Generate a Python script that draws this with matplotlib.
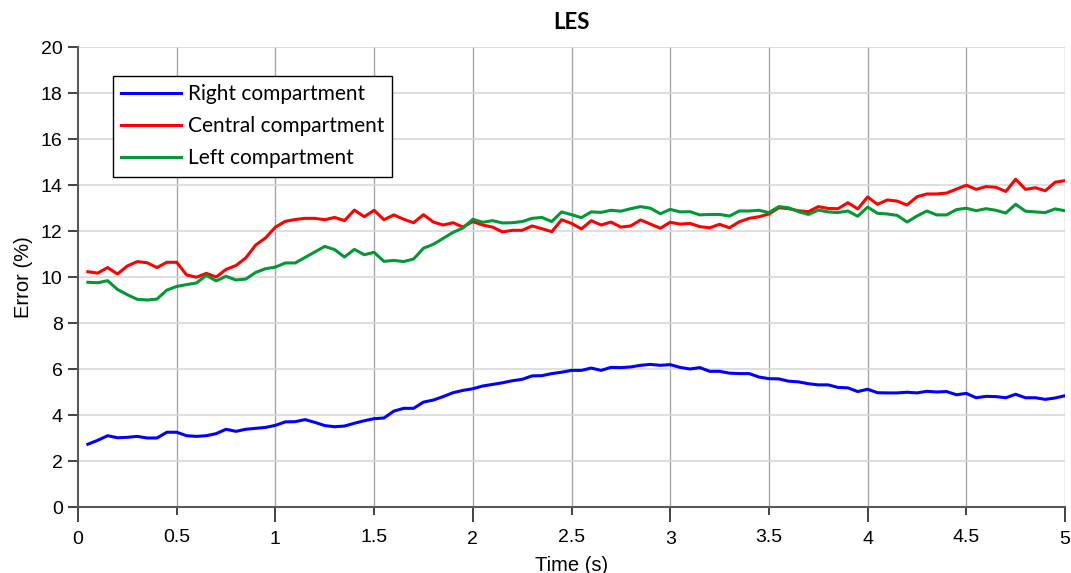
import numpy as np
import matplotlib
matplotlib.use("Agg")
import matplotlib.pyplot as plt

time_s = [round(0.05 * (i + 1), 2) for i in range(100)]

right_comp = [2.73, 2.90, 3.10, 3.01, 3.03, 3.07, 3.00, 3.00, 3.25, 3.25,
              3.10, 3.07, 3.10, 3.19, 3.38, 3.29, 3.38, 3.42, 3.46, 3.55,
              3.70, 3.71, 3.80, 3.68, 3.54, 3.49, 3.52, 3.64, 3.75, 3.84,
              3.87, 4.17, 4.29, 4.29, 4.56, 4.65, 4.80, 4.97, 5.07, 5.14,
              5.26, 5.33, 5.40, 5.49, 5.55, 5.70, 5.71, 5.80, 5.86, 5.94,
              5.94, 6.04, 5.94, 6.07, 6.06, 6.09, 6.16, 6.20, 6.16, 6.19,
              6.07, 6.00, 6.06, 5.90, 5.90, 5.82, 5.80, 5.80, 5.65, 5.58,
              5.57, 5.47, 5.44, 5.36, 5.31, 5.31, 5.20, 5.18, 5.02, 5.12,
              4.97, 4.96, 4.96, 4.99, 4.96, 5.03, 5.00, 5.02, 4.88, 4.94,
              4.75, 4.81, 4.80, 4.75, 4.90, 4.75, 4.75, 4.68, 4.74, 4.84]

central_comp = [10.23, 10.17, 10.41, 10.13, 10.48, 10.67, 10.62, 10.41, 10.64, 10.64,
                10.09, 9.99, 10.16, 10.00, 10.33, 10.50, 10.83, 11.39, 11.70, 12.17,
                12.42, 12.50, 12.55, 12.55, 12.49, 12.59, 12.45, 12.91, 12.62, 12.90,
                12.49, 12.70, 12.51, 12.36, 12.71, 12.39, 12.26, 12.36, 12.17, 12.41,
                12.26, 12.17, 11.96, 12.03, 12.03, 12.22, 12.10, 11.97, 12.49, 12.33,
                12.09, 12.45, 12.26, 12.39, 12.17, 12.22, 12.48, 12.30, 12.12, 12.38,
                12.30, 12.33, 12.19, 12.14, 12.29, 12.14, 12.40, 12.55, 12.62, 12.74,
                13.01, 12.97, 12.88, 12.84, 13.06, 12.98, 12.97, 13.23, 12.96, 13.48,
                13.16, 13.35, 13.30, 13.13, 13.49, 13.61, 13.61, 13.65, 13.82, 13.99,
                13.81, 13.93, 13.90, 13.72, 14.25, 13.81, 13.88, 13.75, 14.12, 14.19]

left_comp = [9.77, 9.75, 9.84, 9.46, 9.23, 9.03, 9.00, 9.04, 9.43, 9.59,
             9.67, 9.74, 10.07, 9.83, 10.03, 9.87, 9.91, 10.20, 10.36, 10.43,
             10.61, 10.61, 10.85, 11.09, 11.33, 11.19, 10.87, 11.20, 10.97, 11.07,
             10.68, 10.72, 10.67, 10.78, 11.25, 11.42, 11.68, 11.94, 12.13, 12.51,
             12.38, 12.45, 12.35, 12.36, 12.41, 12.55, 12.59, 12.41, 12.83, 12.71,
             12.58, 12.83, 12.81, 12.90, 12.86, 12.97, 13.06, 12.99, 12.75, 12.94,
             12.83, 12.84, 12.70, 12.72, 12.72, 12.65, 12.87, 12.87, 12.90, 12.80,
             13.06, 13.01, 12.84, 12.72, 12.91, 12.83, 12.80, 12.87, 12.64, 13.04,
             12.77, 12.74, 12.68, 12.39, 12.65, 12.87, 12.70, 12.70, 12.93, 12.99,
             12.88, 12.97, 12.90, 12.78, 13.16, 12.86, 12.83, 12.80, 12.96, 12.88]

series_names = ["Right compartment", "Central compartment", "Left compartment"]
series_colors = ["#0000ff", "#ff0000", "#009933"]

x_major = [0, 1, 2, 3, 4, 5]
x_minor = [0.5, 1.5, 2.5, 3.5, 4.5]
y_ticks = list(range(0, 21, 2))

fig = plt.figure(figsize=(10.71, 5.73), dpi=100)
ax = fig.add_axes([78 / 1071, 66 / 573, 987 / 1071, 460 / 573])

for vals, name, col in zip([right_comp, central_comp, left_comp], series_names, series_colors):
    ax.plot(time_s, vals, color=col, lw=2.2, label=name, zorder=3)

ax.set_xlim(0, 5)
ax.set_ylim(0, 20)

for xv in x_minor + x_major[1:]:
    ax.axvline(xv, color="#a6a6a6", lw=1.0, zorder=1)
for yv in y_ticks[1:]:
    ax.axhline(yv, color="#d9d9d9", lw=1.2, zorder=1)

for s in ["top", "right"]:
    ax.spines[s].set_visible(False)
for s in ["left", "bottom"]:
    ax.spines[s].set_color("#595959")
    ax.spines[s].set_linewidth(1.5)
    ax.spines[s].set_zorder(4)

fam = ["Liberation Sans", "DejaVu Sans"]
tick_font = dict(family=fam, size=14)
ax.tick_params(axis="y", direction="out", length=7, width=1.2, color="#222222", pad=4)
ax.tick_params(axis="x", which="major", direction="out", length=11, width=1.2, color="#222222", pad=6)
ax.tick_params(axis="x", which="minor", direction="out", length=6, width=1.2, color="#222222", pad=10)

ax.set_xticks(x_major)
ax.set_xticklabels([str(v) for v in x_major], **tick_font)
ax.set_xticks(x_minor, minor=True)
ax.set_xticklabels([str(v) for v in x_minor], minor=True, **tick_font)
ax.set_yticks(y_ticks)
ax.set_yticklabels([str(v) for v in y_ticks], **tick_font)

ax.set_xlabel("Time (s)", family=fam, size=14.5, labelpad=6)
ax.set_ylabel("Error (%)", family=fam, size=14.5, labelpad=6)
ax.set_title("LES", family=["Lato", "DejaVu Sans"], weight="bold", size=16, pad=13)

leg = ax.legend(loc="upper left", bbox_to_anchor=(0.035, 0.9376), frameon=True, fancybox=False,
                edgecolor="#000000", framealpha=1, borderaxespad=0,
                prop=dict(family=["Lato", "DejaVu Sans"], size=15),
                handlelength=2.9, handletextpad=0.3, labelspacing=0.58, borderpad=0.4)
leg.get_frame().set_linewidth(1.0)
leg.set_zorder(5)

fig.savefig("out.png", dpi=100)
